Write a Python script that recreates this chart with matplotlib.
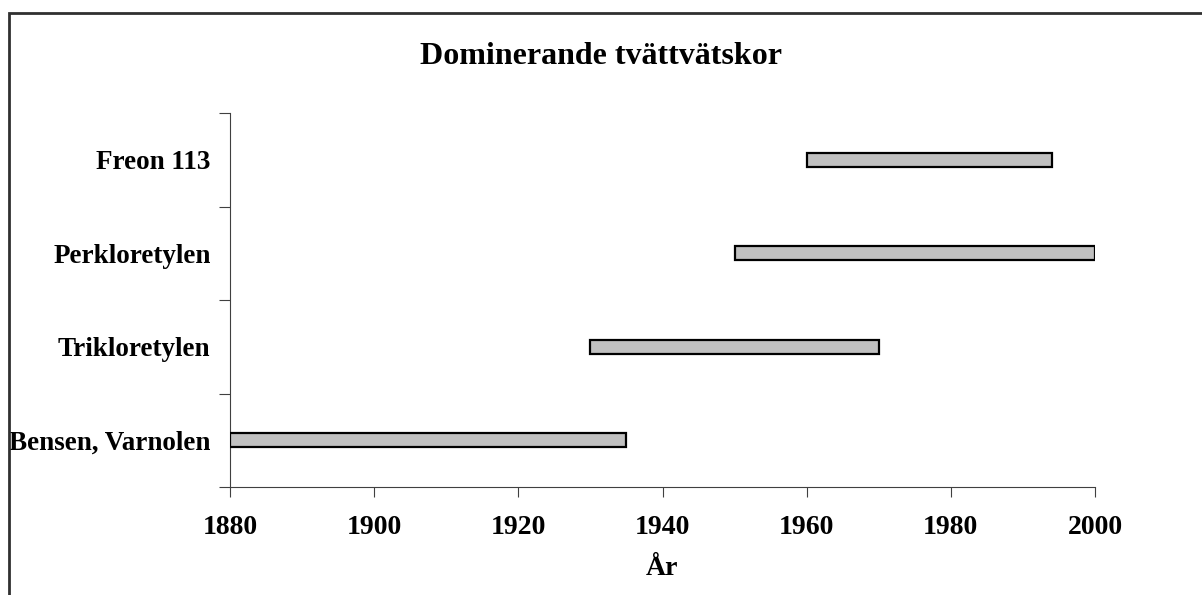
import matplotlib.pyplot as plt
from matplotlib.patches import Rectangle

plt.rcParams['font.family'] = ['Liberation Serif', 'DejaVu Serif']
plt.rcParams['font.weight'] = 'bold'

# data
solvents = ['Bensen, Varnolen', 'Trikloretylen', 'Perkloretylen', 'Freon 113']
start_year = [1880, 1930, 1950, 1960]
end_year = [1935, 1970, 2000, 1994]
xticks = [1880, 1900, 1920, 1940, 1960, 1980, 2000]

fig = plt.figure(figsize=(12.02, 5.95), dpi=100)
ax = fig.add_axes([230 / 1202, 108 / 595, 865 / 1202, 374 / 595])

widths = [e - s for s, e in zip(start_year, end_year)]
ypos = [i + 0.5 for i in range(len(solvents))]
ax.barh(ypos, widths, left=start_year, height=0.15, color='#c0c0c0',
        edgecolor='black', linewidth=1.6, zorder=3)

ax.set_xlim(1880, 2000)
ax.set_ylim(0, len(solvents))
ax.set_xticks(xticks)
ax.set_xticklabels([str(x) for x in xticks], fontsize=20, fontweight='bold')
ax.set_yticks(range(len(solvents) + 1))
ax.set_yticklabels([])
ax.set_yticks(ypos, minor=True)
ax.set_yticklabels(solvents, minor=True, fontsize=19.5, fontweight='bold')
ax.tick_params(axis='y', which='minor', length=0, pad=14)
ax.tick_params(axis='y', which='major', length=8, direction='out', color='#404040')
ax.tick_params(axis='x', length=7, direction='out', pad=13, color='#404040')

ax.spines['top'].set_visible(False)
ax.spines['right'].set_visible(False)
ax.spines['left'].set_color('#404040')
ax.spines['bottom'].set_color('#404040')

ax.set_xlabel('År', fontsize=20, fontweight='bold', labelpad=12)
fig.text(0.5, 1 - 57 / 595, 'Dominerande tvättvätskor', ha='center', va='center',
         fontsize=23, fontweight='bold')

# outer frame (only top and left edges visible)
fig.patches.append(Rectangle((8.5 / 1202, -0.1), 1.2, 1 - 12.5 / 595 + 0.1,
                             transform=fig.transFigure, fill=False,
                             edgecolor='#303030', linewidth=2))

fig.savefig('out.png', dpi=100)
